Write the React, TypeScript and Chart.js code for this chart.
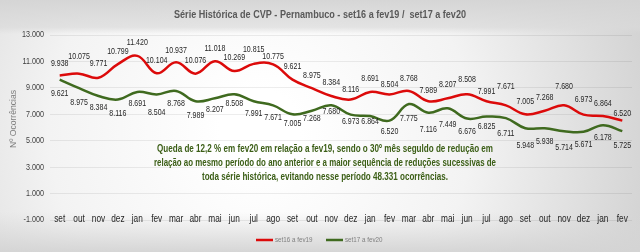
import React, { useEffect, useRef } from "react";
import { Chart, registerables } from "chart.js";

Chart.register(...registerables);

const categories = ["set", "out", "nov", "dez", "jan", "fev", "mar", "abr", "mai", "jun", "jul", "ago", "set", "out", "nov", "dez", "jan", "fev", "mar", "abr", "mai", "jun", "jul", "ago", "set", "out", "nov", "dez", "jan", "fev"];
const seriesRed = [9938, 10075, 9771, 10799, 11420, 10104, 10937, 10076, 11018, 10269, 10815, 10775, 9621, 8975, 8384, 8116, 8691, 8504, 8768, 7989, 8207, 8508, 7991, 7671, 7005, 7268, 7680, 6973, 6864, 6520];
const seriesGreen = [9621, 8975, 8384, 8116, 8691, 8504, 8768, 7989, 8207, 8508, 7991, 7671, 7005, 7268, 7680, 6973, 6864, 6520, 7775, 7116, 7449, 6676, 6825, 6711, 5948, 5938, 5714, 5671, 6178, 5725];
const yTicks = [-1000, 1000, 3000, 5000, 7000, 9000, 11000, 13000];
const seriesNames = ["set16 a fev19", "set17 a fev20"];
const titleText = "Série Histórica de CVP - Pernambuco - set16 a fev19 /  set17 a fev20";
const yAxisTitle = "Nº Ocorrências";
const noteLines = [
  "Queda de 12,2 % em fev20 em relação a fev19, sendo o 30º mês seguldo de redução em",
  "relação ao mesmo período do ano anterior e a maior sequência de reduções sucessivas de",
  "toda série histórica, evitando nesse período 48.331 ocorrências.",
];

// vertical offsets (px) of each data label from its point, as placed in the original
const labelDyRed = [-12, -17, -14, -13, -14, -13, -12, -13, -13, -14, -14, -8, -13, -13, -14, -10, -14, -10, -13, -11, -14, -15, -10, -19, -13, -13, -19, -15, -13, -7];
const labelDyGreen = [14, 14, 11, 14, 11, 18, 12, 14, 11, 9, 12, 12, 9, 8, 6, 7, 5, 11, 14, 17, 16, 13, 10, 15, 17, 13, 16, 13, 12, 14];

const FONT = "'Liberation Sans', Arial, sans-serif";
const RED = "#dc0a0a";
const GREEN = "#3f6a1f";

const fmt = (v: number) => {
  const s = Math.abs(v).toString().replace(/\B(?=(\d{3})+(?!\d))/g, ".");
  return (v < 0 ? "-" : "") + s;
};

function sText(ctx: any, text: string, x: number, y: number, sx: number, align: string) {
  ctx.save();
  ctx.translate(x, y);
  ctx.scale(sx, 1);
  ctx.textAlign = align;
  ctx.fillText(text, 0, 0);
  ctx.restore();
}

function fitText(ctx: any, text: string, x: number, y: number, w: number) {
  const m = ctx.measureText(text).width;
  sText(ctx, text, x, y, w / m, "center");
}

const decorPlugin = {
  id: "decor",
  beforeDraw(chart: any) {
    const { ctx, width, height } = chart;
    ctx.save();
    const g = ctx.createRadialGradient(260, 130, 40, 260, 130, 420);
    g.addColorStop(0, "#ffffff");
    g.addColorStop(0.45, "#f3f3f3");
    g.addColorStop(1, "#cfcfcf");
    ctx.fillStyle = g;
    ctx.fillRect(0, 0, width, height);
    const t = ctx.createLinearGradient(0, 0, 0, 34);
    t.addColorStop(0, "rgba(212,212,212,0.95)");
    t.addColorStop(0.8, "rgba(218,218,218,0.7)");
    t.addColorStop(1, "rgba(218,218,218,0.0)");
    ctx.fillStyle = t;
    ctx.fillRect(0, 0, width, 34);
    const b = ctx.createLinearGradient(0, 212, 0, height);
    b.addColorStop(0, "rgba(215,215,215,0.0)");
    b.addColorStop(1, "rgba(212,212,212,0.95)");
    ctx.fillStyle = b;
    ctx.fillRect(0, 212, width, height - 212);
    ctx.restore();
  },
  afterDraw(chart: any) {
    const { ctx } = chart;
    const xs = chart.scales.x;
    const ys = chart.scales.y;
    ctx.save();
    ctx.textBaseline = "middle";
    // title
    ctx.fillStyle = "#595959";
    ctx.font = `bold 11px ${FONT}`;
    fitText(ctx, titleText, 320, 15, 292);
    // y axis title
    ctx.save();
    ctx.translate(14, 119);
    ctx.rotate(-Math.PI / 2);
    ctx.font = `9px ${FONT}`;
    ctx.fillStyle = "#7f7f7f";
    fitText(ctx, yAxisTitle, 0, 0, 58);
    ctx.restore();
    // y tick labels
    ctx.font = `9px ${FONT}`;
    ctx.fillStyle = "#404040";
    yTicks.forEach((v) => sText(ctx, fmt(v), 44, ys.getPixelForValue(v), 0.8, "right"));
    // x tick labels
    ctx.font = `10px ${FONT}`;
    ctx.fillStyle = "#262626";
    categories.forEach((c, i) => sText(ctx, c, xs.getPixelForValue(i), 219, 0.83, "center"));
    // data labels
    ctx.font = `9.5px ${FONT}`;
    ctx.fillStyle = "#262626";
    const m0 = chart.getDatasetMeta(0);
    const m1 = chart.getDatasetMeta(1);
    m0.data.forEach((p: any, i: number) => sText(ctx, fmt(seriesRed[i]), p.x, p.y + labelDyRed[i], 0.74, "center"));
    m1.data.forEach((p: any, i: number) => sText(ctx, fmt(seriesGreen[i]), p.x, p.y + labelDyGreen[i], 0.74, "center"));
    // note
    ctx.font = `bold 11px ${FONT}`;
    ctx.fillStyle = "#3b5e16";
    const noteW = [336, 342, 246];
    noteLines.forEach((l, i) => fitText(ctx, l, 325, 149 + i * 14, noteW[i]));
    // legend
    ctx.lineWidth = 2.5;
    ctx.strokeStyle = RED;
    ctx.beginPath();
    ctx.moveTo(256, 240);
    ctx.lineTo(273, 240);
    ctx.stroke();
    ctx.strokeStyle = GREEN;
    ctx.beginPath();
    ctx.moveTo(326, 240);
    ctx.lineTo(343, 240);
    ctx.stroke();
    ctx.font = `8px ${FONT}`;
    ctx.fillStyle = "#7f7f7f";
    sText(ctx, seriesNames[0], 275, 240, 0.78, "left");
    sText(ctx, seriesNames[1], 345, 240, 0.78, "left");
    ctx.restore();
  },
};

export default function App() {
  const ref = useRef<HTMLCanvasElement | null>(null);
  useEffect(() => {
    if (!ref.current) return;
    const chart = new Chart(ref.current, {
      type: "line",
      data: {
        labels: categories,
        datasets: [
          { label: seriesNames[0], data: seriesRed, borderColor: RED, backgroundColor: RED, borderWidth: 2.5, pointRadius: 0, tension: 0.4 },
          { label: seriesNames[1], data: seriesGreen, borderColor: GREEN, backgroundColor: GREEN, borderWidth: 2.5, pointRadius: 0, tension: 0.4 },
        ],
      },
      options: {
        responsive: false,
        animation: false,
        layout: { padding: { top: 35, left: 0, right: 8, bottom: 20 } },
        plugins: { legend: { display: false }, title: { display: false }, tooltip: { enabled: false } },
        scales: {
          x: {
            offset: true,
            grid: { display: false },
            border: { display: false },
            ticks: { display: false },
            afterFit: (s: any) => { s.height = 12; },
          },
          y: {
            min: -1000,
            max: 13000,
            grid: { color: "rgba(0,0,0,0.07)", drawTicks: false },
            border: { display: false },
            ticks: { display: false, stepSize: 2000 },
            afterFit: (s: any) => { s.width = 50; },
          },
        },
      },
      plugins: [decorPlugin],
    });
    return () => chart.destroy();
  }, []);
  return (
    <div style={{ position: "fixed", left: 0, top: 0, width: 640, height: 252 }}>
      <canvas ref={ref} width={640} height={252} />
    </div>
  );
}
